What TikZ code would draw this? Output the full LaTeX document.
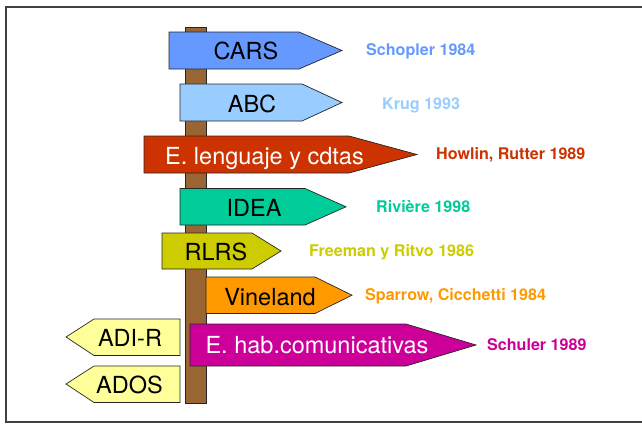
\documentclass[tikz,border=0pt]{standalone}
\usepackage{fontspec}
\setmainfont{TeX Gyre Heros}

\definecolor{post}{HTML}{996633}
\definecolor{cars}{HTML}{6699FF}
\definecolor{abc}{HTML}{99CCFF}
\definecolor{lenguaje}{HTML}{CC3300}
\definecolor{idea}{HTML}{00CC99}
\definecolor{rlrs}{HTML}{CCCC00}
\definecolor{vineland}{HTML}{FF9900}
\definecolor{habcom}{HTML}{CC0099}
\definecolor{adi}{HTML}{FFFF99}

\begin{document}
\begin{tikzpicture}[x=1pt,y=-1pt,
    sign/.style={draw=black!85, line width=0.7pt},
    signtext/.style={anchor=base, inner sep=0pt, font=\fontsize{23.5}{28}\selectfont},
    author/.style={anchor=base west, inner sep=0pt, font=\bfseries\fontsize{16.1}{19}\selectfont}]
    \useasboundingbox (0,0) rectangle (642,423);
    \draw[black!75, line width=1.5pt] (650,7) -- (6,7) -- (6,422) -- (650,422);

    % post
    \draw[sign, fill=post] (185,27) rectangle (206,403);

    % signs pointing right
    \draw[sign, fill=cars] (169,32) -- (299,32) -- (342,50.5) -- (299,69) -- (169,69) -- cycle;
    \node[signtext] (cars) at (246,59.5) {CARS};
    \draw[sign, fill=abc] (180,84) -- (302,84) -- (342,102.5) -- (302,121) -- (180,121) -- cycle;
    \node[signtext] (abc) at (252,112) {ABC};
    \draw[sign, fill=lenguaje] (144,136) -- (349,136) -- (417,154.5) -- (349,173) -- (144,173) -- cycle;
    \node[signtext, text=white] (lenguaje) at (264.5,164.5) {E. lenguaje y cdtas};
    \draw[sign, fill=idea] (180,188.5) -- (305,188.5) -- (346,206.8) -- (305,225) -- (180,225) -- cycle;
    \node[signtext] (idea) at (254,216) {IDEA};
    \draw[sign, fill=rlrs] (162,233) -- (252,233) -- (281,251) -- (252,269) -- (162,269) -- cycle;
    \node[signtext] (rlrs) at (216,260) {RLRS};
    \draw[sign, fill=vineland] (206,277) -- (315,277) -- (352,295.2) -- (315,313.5) -- (206,313.5) -- cycle;
    \node[signtext] (vineland) at (270,305) {Vineland};
    \draw[sign, fill=habcom] (190,324) -- (406,324) -- (476,345) -- (406,366) -- (190,366) -- cycle;
    \node[signtext, text=white] (habcom) at (317,353) {E. hab.comunicativas};

    % signs pointing left
    \draw[sign, fill=adi] (180,319) -- (94,319) -- (66,337) -- (94,355.5) -- (180,355.5) -- cycle;
    \node[signtext] (adir) at (130,346) {ADI-R};
    \draw[sign, fill=adi] (180,366) -- (94,366) -- (66,384) -- (94,402.5) -- (180,402.5) -- cycle;
    \node[signtext] (ados) at (129.5,393.5) {ADOS};

    % authors
    \node[author, text=cars] (cars-ref) at (366,55) {Schopler 1984};
    \node[author, text=abc] (abc-ref) at (382,109) {Krug 1993};
    \node[author, text=lenguaje] (lenguaje-ref) at (436,159.5) {Howlin, Rutter 1989};
    \node[author, text=idea] (idea-ref) at (376,212) {Rivière 1998};
    \node[author, text=rlrs] (rlrs-ref) at (309,256) {Freeman y Ritvo 1986};
    \node[author, text=vineland] (vineland-ref) at (365,300.5) {Sparrow, Cicchetti 1984};
    \node[author, text=habcom] (habcom-ref) at (487,350) {Schuler 1989};
\end{tikzpicture}
\end{document}
